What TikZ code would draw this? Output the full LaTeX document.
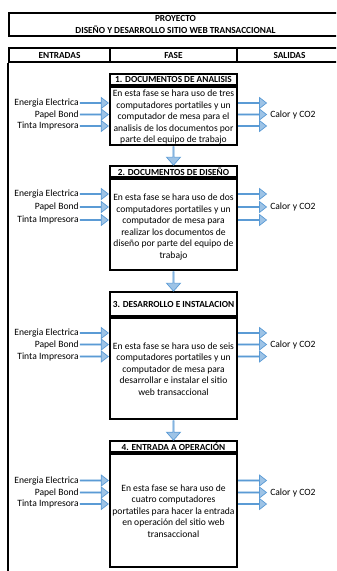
\documentclass[tikz,border=0pt]{standalone}
\usepackage{fontspec}
\setmainfont{Carlito}
\usetikzlibrary{shapes.arrows,calc}

\definecolor{arrowfill}{HTML}{9DC3E6}
\definecolor{arrowline}{HTML}{5B9BD5}

\newcommand{\txtsize}{\fontsize{9.6bp}{11.5bp}\selectfont}
\newcommand{\headsize}{\fontsize{9.3bp}{11.5bp}\selectfont}

\tikzset{
  every node/.style={font=\txtsize, text=black},
  frame/.style={draw=black, line width=2.3bp},
  headcell/.style={frame, minimum height=14bp, inner sep=0pt, font=\bfseries\headsize},
  phasetitle/.style={frame, fill=white, minimum width=127bp, inner sep=0pt, font=\bfseries\headsize},
  phasebody/.style={frame, fill=white, minimum width=127bp, inner sep=0pt},
  bodytext/.style={align=center, inner sep=0pt},
  flowlabel/.style={inner sep=1bp},
  inarrow/.style={single arrow, draw=arrowline, fill=arrowfill, line width=0.7bp,
    minimum height=28bp, minimum width=11bp, single arrow head extend=2.9bp,
    single arrow tip angle=76, inner sep=0pt},
  downarrow/.style={inarrow, shape border rotate=270, minimum width=14bp,
    single arrow head extend=3.5bp, single arrow tip angle=82}
}

% three inputs on the left, three outputs on the right of a phase box
\newcommand{\phaseflows}[4]{%
  \foreach \yy/\txt [count=\i] in {#2/Energia Electrica, #3/Papel Bond, #4/Tinta Impresora} {
    \node[inarrow, anchor=tip] (#1in\i) at (#1.west |- 0,\yy) {};
    \node[flowlabel, anchor=east] (#1lab\i) at (#1in\i.tail) {\txt};
    \node[inarrow, anchor=tail] (#1out\i) at (#1.east |- 0,\yy) {};
  }
  \node[flowlabel, anchor=west] (#1calor) at ([xshift=2bp]#1out2.tip) {Calor y CO2};
}

\begin{document}
\begin{tikzpicture}[x=1bp, y=-1bp]
\useasboundingbox (0,0) rectangle (336,571);
\clip (0,0) rectangle (336,571);

% project title
\node[frame, minimum width=333bp, minimum height=23bp, align=center, inner sep=0pt,
      font=\bfseries\headsize] (proj) at (175.5,24.5)
  {PROYECTO\\DISEÑO Y DESARROLLO SITIO WEB TRANSACCIONAL};

% column headers
\node[headcell, minimum width=101bp] (hent) at (59.5,55) {ENTRADAS};
\node[headcell, minimum width=127bp] (hfas) at (173.5,55) {FASE};
\node[headcell, minimum width=105bp] (hsal) at (289.5,55) {SALIDAS};
\draw[frame] (hent.south west) -- ++(0,520);

% phase boxes: title strip and body
\node[phasetitle, minimum height=11bp] (t1) at (173.5,79.5) {1. DOCUMENTOS DE ANALISIS};
\node[phasebody, minimum height=58bp, anchor=north] (b1) at (t1.south) {};
\node[bodytext] (x1) at ([yshift=-1bp]b1.center)
  {En esta fase se hara uso de tres\\computadores portatiles y un\\computador de mesa para el\\analisis de los documentos por\\parte del equipo de trabajo};

\node[phasetitle, minimum height=11bp] (t2) at (173.5,171.5) {2. DOCUMENTOS DE DISEÑO};
\node[phasebody, minimum height=91bp, anchor=north] (b2) at (t2.south) {};
\node[bodytext] (x2) at ([yshift=-2bp]b2.center)
  {En esta fase se hara uso de dos\\computadores portatiles y un\\computador de mesa para\\realizar los documentos de\\diseño por parte del equipo de\\trabajo};

\node[phasetitle, minimum height=24bp] (t3) at (173.5,304) {3. DESARROLLO E INSTALACION};
\node[phasebody, minimum height=101bp, anchor=north] (b3) at (t3.south) {};
\node[bodytext] (x3) at (b3.center)
  {En esta fase se hara uso de seis\\computadores portatiles y un\\computador de mesa para\\desarrollar e instalar el sitio\\web transaccional};

\node[phasetitle, minimum height=11bp] (t4) at (173.5,446.5) {4. ENTRADA A OPERACIÓN};
\node[phasebody, minimum height=113bp, anchor=north] (b4) at (t4.south) {};
\node[bodytext] (x4) at (b4.center)
  {En esta fase se hara uso de\\cuatro computadores\\portatiles para hacer la entrada\\en operación del sitio web\\transaccional};

% arrows between phases
\path let \p1=(b1.south), \p2=(t2.north) in
  node[downarrow, minimum height={\y1-\y2}, anchor=tail] (d12) at (\p1) {};
\path let \p1=(b2.south), \p2=(t3.north) in
  node[downarrow, minimum height={\y1-\y2}, anchor=tail] (d23) at (\p1) {};
\path let \p1=(b3.south), \p2=(t4.north) in
  node[downarrow, minimum height={\y1-\y2}, anchor=tail] (d34) at (\p1) {};

% inputs and outputs of each phase
\phaseflows{b1}{103}{114.5}{126}
\phaseflows{b2}{194}{207}{220}
\phaseflows{b3}{333}{344.5}{356.5}
\phaseflows{b4}{480.5}{492.5}{504}
\end{tikzpicture}
\end{document}
